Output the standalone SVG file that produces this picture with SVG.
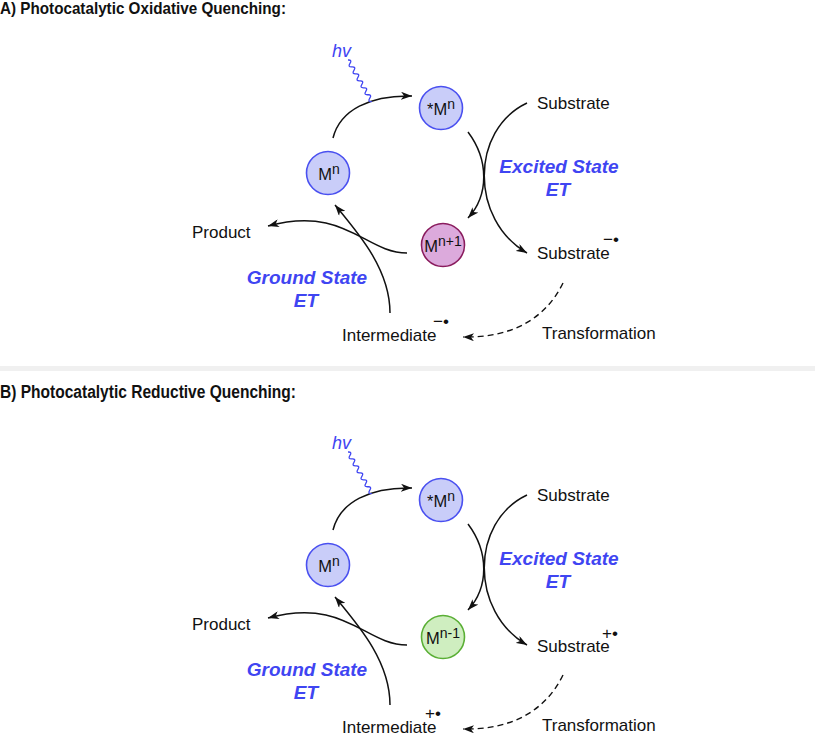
<svg xmlns="http://www.w3.org/2000/svg" width="815" height="735" viewBox="0 0 815 735">
<style>
.t{font-family:"Liberation Sans",Arial,sans-serif;font-size:17px;fill:#111}
.title{font-family:"Liberation Sans",Arial,sans-serif;font-size:16.5px;font-weight:bold;fill:#111}
.titleb{font-family:"Liberation Sans",Arial,sans-serif;font-size:17.5px;font-weight:bold;fill:#111}
.et{font-family:"Liberation Sans",Arial,sans-serif;font-size:19px;font-weight:bold;font-style:italic;fill:#3f45f2;text-anchor:middle}
.hv{font-family:"Liberation Sans",Arial,sans-serif;font-size:18px;font-style:italic;fill:#3f45f2}
.lab{font-family:"Liberation Sans",Arial,sans-serif;font-size:16.5px;fill:#111;text-anchor:middle}
.sup{font-size:14px}
.cb{fill:#c9cdf9;stroke:#4a50f0;stroke-width:1.6}
.cp{fill:#dcaadc;stroke:#8a1c5e;stroke-width:1.6}
.cg{fill:#cfeec0;stroke:#5aaf35;stroke-width:1.6}
.a{fill:none;stroke:#111;stroke-width:1.5;marker-end:url(#ah)}
.d{fill:none;stroke:#111;stroke-width:1.4;stroke-dasharray:6 4;marker-end:url(#ah)}
.w{fill:none;stroke:#3f45f2;stroke-width:1.3}
</style>
<defs>
<marker id="ah" markerUnits="userSpaceOnUse" markerWidth="12" markerHeight="8" refX="11" refY="4" orient="auto" viewBox="0 0 12 8">
<path d="M0,0 L11,4 L0,8 L3,4 z" fill="#111"/>
</marker>
</defs>
<rect x="0" y="366" width="815" height="5" fill="#f0f0f0"/>

<g id="sectionA">
<text class="title" x="0" y="14" textLength="286" lengthAdjust="spacingAndGlyphs">A) Photocatalytic Oxidative Quenching:</text>
<g id="connectorsA">
<path class="a" d="M333,138 C340,110 370,95 412,96"/>
<path class="w" transform="translate(348,60) rotate(60.3)" d="M0,0 q2,-4 4,0 t4,0 t4,0 t4,0 t4,0 t4,0 t4,0 t4,0 t4,0 t4,0 t4,0 t4,0"/>
<path class="a" d="M468,132 C489,160 489,195 468,218"/>
<path class="a" d="M527,103 C470,130 470,220 527,253"/>
<path class="d" d="M563,283 C545,320 510,338 463,337"/>
<path class="a" d="M390,313 C390,270 360,235 335,205"/>
<path class="a" d="M407,253 C365,253 345,205 268,226"/>
</g>
<g id="hvA"><text class="hv" x="332" y="57">hv</text></g>
<g id="MnA"><circle class="cb" cx="328" cy="173" r="21.5"/><text class="lab" x="329" y="180">M<tspan class="sup" dy="-6">n</tspan></text></g>
<g id="MnStarA"><circle class="cb" cx="441" cy="108" r="21.5"/><text class="lab" x="441" y="115">*M<tspan class="sup" dy="-6">n</tspan></text></g>
<g id="Mnp1A"><circle class="cp" cx="443" cy="245" r="21.5"/><text class="lab" x="443" y="252">M<tspan class="sup" dy="-6">n+1</tspan></text></g>
<g id="SubstrateA"><text class="t" x="537" y="109">Substrate</text></g>
<g id="SubstrateRadA"><text class="t" x="537" y="259">Substrate</text><text class="t" x="603" y="245">−•</text></g>
<g id="TransformationA"><text class="t" x="542" y="339">Transformation</text></g>
<g id="IntermediateA"><text class="t" x="342" y="341">Intermediate</text><text class="t" x="433" y="327">−•</text></g>
<g id="ProductA"><text class="t" x="192" y="238">Product</text></g>
<g id="ExcitedA"><text class="et" x="559" y="173">Excited State</text><text class="et" x="558" y="196">ET</text></g>
<g id="GroundA"><text class="et" x="307" y="284">Ground State</text><text class="et" x="306" y="307">ET</text></g>
</g>

<g id="sectionB">
<text class="titleb" x="0" y="398" textLength="296" lengthAdjust="spacingAndGlyphs">B) Photocatalytic Reductive Quenching:</text>
<g transform="translate(0,392)">
<g id="connectorsB">
<path class="a" d="M333,138 C340,110 370,95 412,96"/>
<path class="w" transform="translate(348,60) rotate(60.3)" d="M0,0 q2,-4 4,0 t4,0 t4,0 t4,0 t4,0 t4,0 t4,0 t4,0 t4,0 t4,0 t4,0 t4,0"/>
<path class="a" d="M468,132 C489,160 489,195 468,218"/>
<path class="a" d="M527,103 C470,130 470,220 527,253"/>
<path class="d" d="M563,283 C545,320 510,338 463,337"/>
<path class="a" d="M390,313 C390,270 360,235 335,205"/>
<path class="a" d="M407,253 C365,253 345,205 268,226"/>
</g>
<g id="hvB"><text class="hv" x="332" y="57">hv</text></g>
<g id="MnB"><circle class="cb" cx="328" cy="173" r="21.5"/><text class="lab" x="329" y="180">M<tspan class="sup" dy="-6">n</tspan></text></g>
<g id="MnStarB"><circle class="cb" cx="441" cy="108" r="21.5"/><text class="lab" x="441" y="115">*M<tspan class="sup" dy="-6">n</tspan></text></g>
<g id="Mnm1B"><circle class="cg" cx="443" cy="245" r="21.5"/><text class="lab" x="443" y="252">M<tspan class="sup" dy="-6">n-1</tspan></text></g>
<g id="SubstrateB"><text class="t" x="537" y="109">Substrate</text></g>
<g id="SubstrateRadB"><text class="t" x="537" y="260">Substrate</text><text class="t" x="602" y="247">+•</text></g>
<g id="TransformationB"><text class="t" x="542" y="339">Transformation</text></g>
<g id="IntermediateB"><text class="t" x="342" y="341">Intermediate</text><text class="t" x="425" y="327">+•</text></g>
<g id="ProductB"><text class="t" x="192" y="238">Product</text></g>
<g id="ExcitedB"><text class="et" x="559" y="173">Excited State</text><text class="et" x="558" y="196">ET</text></g>
<g id="GroundB"><text class="et" x="307" y="284">Ground State</text><text class="et" x="306" y="307">ET</text></g>
</g>
</g>
</svg>
